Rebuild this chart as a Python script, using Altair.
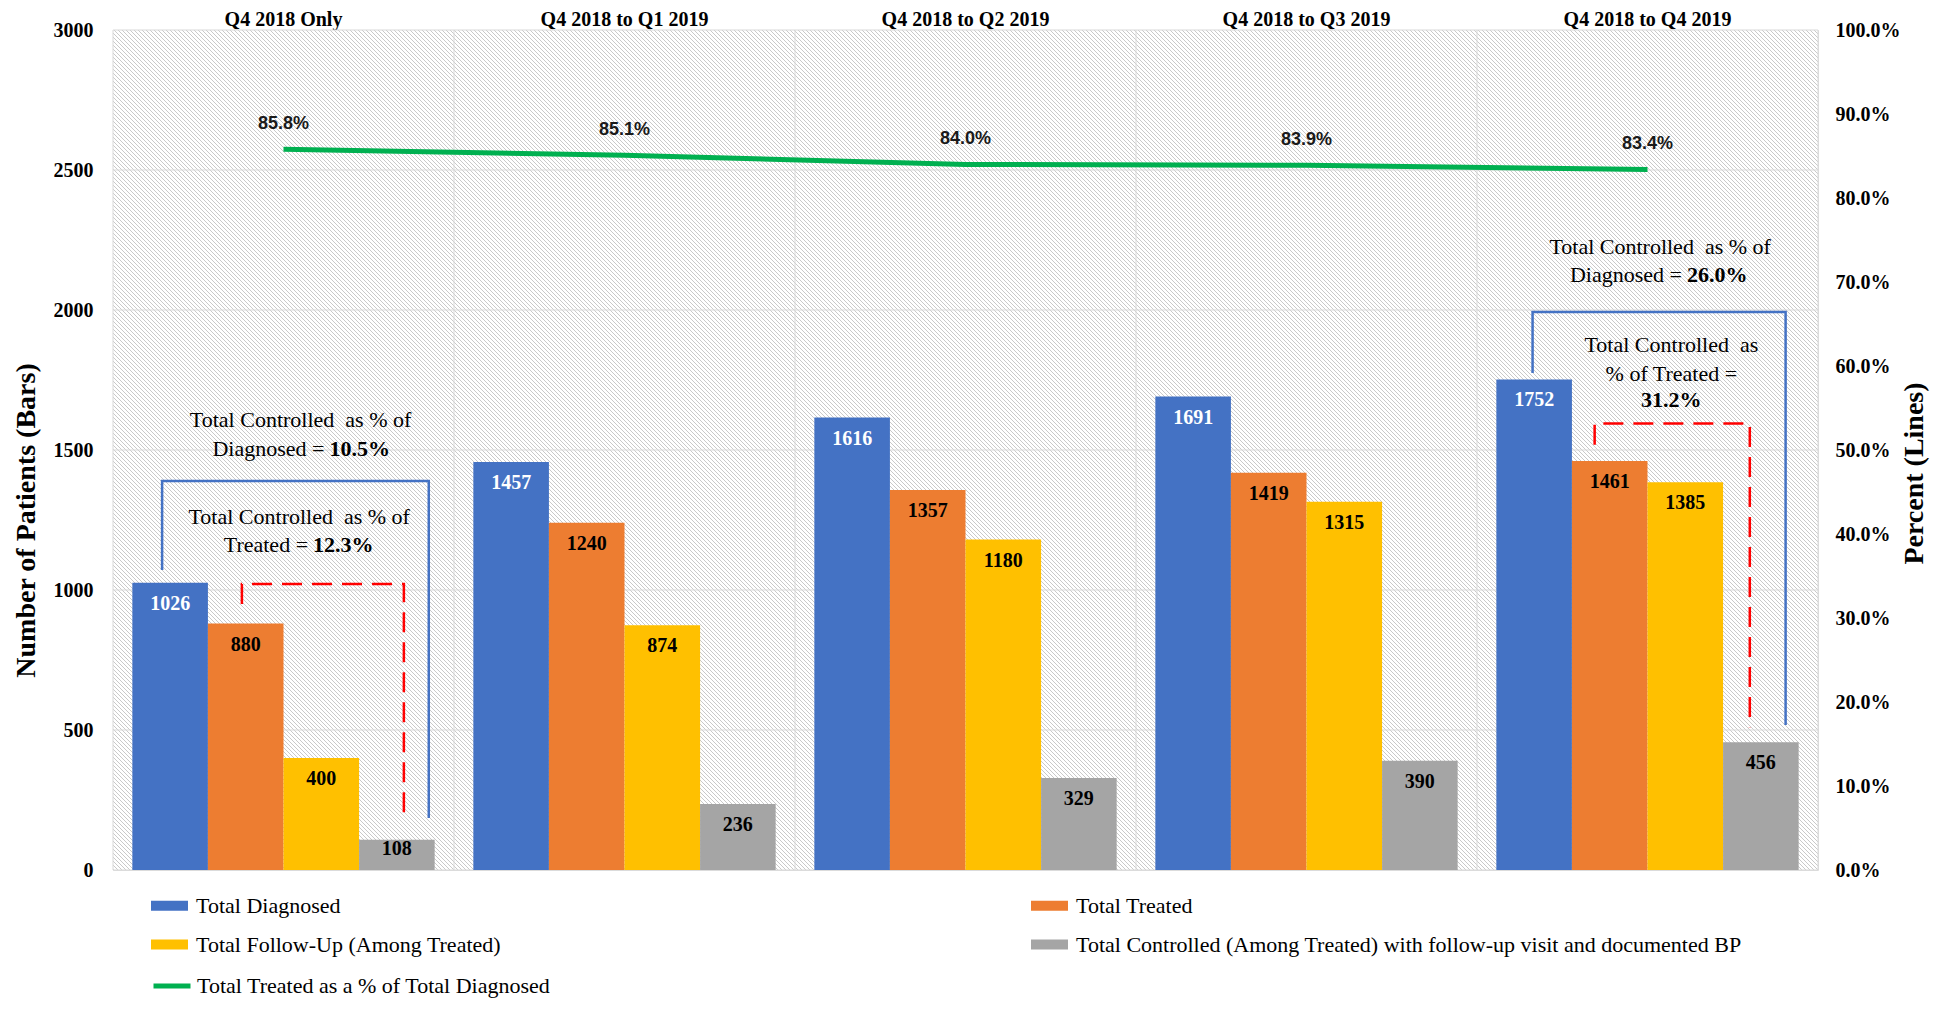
import altair as alt
import pandas as pd

# ---------------- data ----------------
periods = ["Q4 2018 Only", "Q4 2018 to Q1 2019", "Q4 2018 to Q2 2019",
           "Q4 2018 to Q3 2019", "Q4 2018 to Q4 2019"]
series_names = ["Total Diagnosed", "Total Treated", "Total Follow-Up (Among Treated)",
                "Total Controlled (Among Treated) with follow-up visit and documented BP"]
diagnosed = [1026, 1457, 1616, 1691, 1752]
treated = [880, 1240, 1357, 1419, 1461]
followup = [400, 874, 1180, 1315, 1385]
controlled = [108, 236, 329, 390, 456]
pct_treated = [85.8, 85.1, 84.0, 83.9, 83.4]
line_name = "Total Treated as a % of Total Diagnosed"
bar_colors = ["#4472C4", "#ED7D31", "#FFC000", "#A5A5A5"]
line_color = "#00B050"
left_ticks = [0, 500, 1000, 1500, 2000, 2500, 3000]
right_ticks = [0.0, 0.1, 0.2, 0.3, 0.4, 0.5, 0.6, 0.7, 0.8, 0.9, 1.0]
boundaries = [0, 1, 2, 3, 4, 5]  # period boundaries, in period units

# brackets (x in period units, y in patients)
bracket_id = ["b1", "r1", "b5", "r5"]
bracket_style = ["solid", "dashed", "solid", "dashed"]
bracket_left_x = [0.144, 0.378, 4.163, 4.345]
bracket_right_x = [0.926, 0.853, 4.905, 4.800]
bracket_top = [1389, 1021, 1993, 1595]
bracket_left_end = [1071, 950, 1775, 1519]
bracket_right_end = [186, 189, 518, 510]

# annotation texts (x in period units, y in patients)
ann_text = ["Total Controlled\u00a0 as % of", "Diagnosed =", "10.5%",
            "Total Controlled\u00a0 as % of", "Treated =", "12.3%",
            "Total Controlled\u00a0 as % of", "Diagnosed =", "26.0%",
            "Total Controlled\u00a0 as", "% of Treated =", "31.2%"]
ann_x = [0.55, 0.62, 0.62, 0.546, 0.572, 0.572, 4.537, 4.601, 4.601, 4.57, 4.57, 4.57]
ann_y = [1607, 1504, 1504, 1261, 1161, 1161, 2225, 2125, 2125, 1875, 1771, 1679]
ann_kind = ["center", "right", "boldleft", "center", "right", "boldleft",
            "center", "right", "boldleft", "center", "center", "boldcenter"]

# legend reading order (Vega fills legend columns top-to-bottom)
legend_order = [series_names[0], series_names[2], series_names[1], series_names[3]]
legend_colors = [bar_colors[0], bar_colors[2], bar_colors[1], bar_colors[3]]

# ---------------- tables ----------------
rows = []
for i, p in enumerate(periods):
    for s, vals in zip(series_names, [diagnosed, treated, followup, controlled]):
        rows.append({"period": p, "series": s, "value": vals[i]})
bars_df = pd.DataFrame(rows)
line_df = pd.DataFrame({"period": periods, "pct": [v / 100 for v in pct_treated], "name": line_name})

br_rows = []
for k in range(len(bracket_id)):
    pts = [(bracket_left_x[k], bracket_left_end[k]), (bracket_left_x[k], bracket_top[k]),
           (bracket_right_x[k], bracket_top[k]), (bracket_right_x[k], bracket_right_end[k])]
    for j, (bx, by) in enumerate(pts):
        br_rows.append({"bracket": bracket_id[k], "style": bracket_style[k], "step": j, "bx": bx, "by": by})
br_df = pd.DataFrame(br_rows)
bd_df = pd.DataFrame({"vx": boundaries, "y0": min(left_ticks), "y1": max(left_ticks)})
hg_df = pd.DataFrame({"hy": left_ticks, "x0": 0, "x1": len(periods)})
bg_df = pd.DataFrame({"x0": [0], "x1": [len(periods)], "y0": [min(left_ticks)], "y1": [max(left_ticks)]})
ann_df = pd.DataFrame({"t": ann_text, "ax": ann_x, "ay": ann_y, "kind": ann_kind})

SERIF = "Liberation Serif"
W, H = 1705, 840

# diagonal hatch texture (period 4 px horizontally, 45 degrees)
span = W + H
n_per = span // 4 + 1
stops = []
for k in range(n_per):
    a = (4 * k + 0.5) / span
    b = (4 * k + 1.5) / span
    if a > 1:
        break
    stops += [alt.GradientStop(offset=round(min(a, 1), 6), color="#ffffff"),
              alt.GradientStop(offset=round(min(a, 1), 6), color="#c9c9c9"),
              alt.GradientStop(offset=round(min(b, 1), 6), color="#c9c9c9"),
              alt.GradientStop(offset=round(min(b, 1), 6), color="#ffffff")]
r = H / W
s = (1 + r) / (1 + r * r)
hatch = alt.LinearGradient(gradient="linear", stops=stops, x1=0, y1=1,
                           x2=round(s, 6), y2=round(1 - s * r, 6))

xq = alt.Scale(domain=[0, len(periods)], nice=False, zero=False)
yq = alt.Scale(domain=[min(left_ticks), max(left_ticks)], nice=False)

# ---------------- annotation layer (period-unit x scale) ----------------
bg = alt.Chart(bg_df).mark_rect(fill=hatch).encode(
    x=alt.X("x0:Q", scale=xq, axis=None), x2="x1:Q",
    y=alt.Y("y0:Q", scale=yq, axis=None), y2="y1:Q")
hgrid = alt.Chart(hg_df).mark_rule(color="#d9d9d9", strokeWidth=1).encode(
    x=alt.X("x0:Q", scale=xq, axis=None), x2="x1:Q",
    y=alt.Y("hy:Q", scale=yq, axis=None))
vrules = alt.Chart(bd_df).mark_rule(color="#d9d9d9", strokeWidth=1).encode(
    x=alt.X("vx:Q", scale=xq, axis=None),
    y=alt.Y("y0:Q", scale=yq, axis=None),
    y2="y1:Q",
)
blue_br = alt.Chart(br_df).transform_filter(alt.datum.style == "solid").mark_line(
    color="#4472C4", strokeWidth=2.5).encode(
    x=alt.X("bx:Q", scale=xq, axis=None),
    y=alt.Y("by:Q", scale=yq, axis=None),
    detail="bracket:N", order="step:Q")
red_br = alt.Chart(br_df).transform_filter(alt.datum.style == "dashed").mark_line(
    color="#FF0000", strokeWidth=2.5, strokeDash=[20, 10]).encode(
    x=alt.X("bx:Q", scale=xq, axis=None),
    y=alt.Y("by:Q", scale=yq, axis=None),
    detail="bracket:N", order="step:Q")


def ann_layer(kind, align, weight, dx=0):
    return alt.Chart(ann_df).transform_filter(alt.datum.kind == kind).mark_text(
        font=SERIF, fontSize=22, fontWeight=weight, align=align, baseline="middle",
        color="black", dx=dx).encode(
        x=alt.X("ax:Q", scale=xq, axis=None),
        y=alt.Y("ay:Q", scale=yq, axis=None),
        text="t:N")


annot = alt.layer(
    bg, hgrid, vrules, blue_br, red_br,
    ann_layer("center", "center", "normal"),
    ann_layer("right", "right", "normal"),
    ann_layer("boldleft", "left", "bold", dx=5),
    ann_layer("boldcenter", "center", "bold"),
)

# ---------------- bars ----------------
x_band = alt.X("period:N", sort=periods, title=None,
               scale=alt.Scale(paddingInner=0, paddingOuter=0),
               axis=alt.Axis(orient="top", labelAngle=0, ticks=False, tickSize=0, domain=False,
                             grid=False, labelFont=SERIF, labelFontSize=20, labelFontWeight="bold",
                             labelColor="black", labelPadding=11, labelBaseline="middle"))
x_off = alt.XOffset("series:N", sort=series_names,
                    scale=alt.Scale(paddingInner=0, paddingOuter=0.256))
left_axis = alt.Axis(values=left_ticks, format="d", labelFont=SERIF, labelFontSize=20,
                     labelFontWeight="bold", labelColor="black", labelPadding=20,
                     ticks=False, domain=False, grid=False,
                     title="Number of Patients (Bars)", titleFont=SERIF, titleFontSize=28,
                     titleFontWeight="bold", titleColor="black", titleX=-87, titleY=490,
                     titleAngle=270, titleAlign="center", titleBaseline="middle")
y_left_scale = alt.Scale(domain=[min(left_ticks), max(left_ticks)], nice=False)

bars = alt.Chart(bars_df).mark_bar().encode(
    x=x_band, xOffset=x_off,
    y=alt.Y("value:Q", scale=y_left_scale, axis=left_axis),
    color=alt.Color("series:N",
                    scale=alt.Scale(domain=legend_order, range=legend_colors),
                    legend=alt.Legend(title=None, orient="none", legendX=38, legendY=857,
                                      columns=2, symbolType="M-1,-0.27H1V0.27H-1Z",
                                      symbolSize=1369, symbolStrokeWidth=0,
                                      labelFont=SERIF, labelFontSize=22, labelColor="black",
                                      labelOffset=8, labelLimit=1000, rowPadding=9,
                                      columnPadding=529, padding=0)),
)
bar_labels = alt.Chart(bars_df).transform_calculate(
    ly="max(datum.value - 75, 75)").mark_text(
    font=SERIF, fontSize=20, fontWeight="bold", baseline="middle", align="center").encode(
    x=x_band, xOffset=x_off,
    y=alt.Y("ly:Q", scale=y_left_scale, axis=left_axis),
    text=alt.Text("value:Q", format="d"),
    color=alt.condition(alt.datum.series == series_names[0], alt.value("white"), alt.value("black")),
)
left_group = alt.layer(bars, bar_labels)

# ---------------- line ----------------
right_axis = alt.Axis(values=right_ticks, format=".1%", orient="right", labelFont=SERIF,
                      labelFontSize=20, labelFontWeight="bold", labelColor="black",
                      labelPadding=17, ticks=False, domain=False, grid=False,
                      title="Percent (Lines)", titleFont=SERIF, titleFontSize=28,
                      titleFontWeight="bold", titleColor="black", titleX=96, titleY=443,
                      titleAngle=270, titleAlign="center", titleBaseline="middle")
y_right_scale = alt.Scale(domain=[0, 1], nice=False)
line = alt.Chart(line_df).mark_line(strokeWidth=5).encode(
    x=x_band,
    y=alt.Y("pct:Q", scale=y_right_scale, axis=right_axis),
    stroke=alt.Stroke("name:N", scale=alt.Scale(domain=[line_name], range=[line_color]),
                      legend=alt.Legend(title=None, orient="none", legendX=38, legendY=935,
                                        symbolType="stroke", symbolSize=1369,
                                        symbolStrokeWidth=5, labelFont=SERIF,
                                        labelFontSize=22, labelColor="black", labelOffset=4,
                                        labelLimit=1000, padding=0)),
)
line_labels = alt.Chart(line_df).mark_text(
    font="Liberation Sans", fontSize=18, fontWeight="bold", color="#1a1a1a", dy=-25,
    baseline="middle").encode(
    x=x_band,
    y=alt.Y("pct:Q", scale=y_right_scale, axis=right_axis),
    text=alt.Text("pct:Q", format=".1%"),
)
right_group = alt.layer(line, line_labels)

main = alt.layer(left_group, right_group).resolve_scale(y="independent")

chart = alt.layer(annot, main).resolve_scale(x="independent", y="independent").properties(
    width=W, height=H,
    autosize=alt.AutoSizeParams(type="none"),
    padding={"left": 105, "top": 22, "right": 112, "bottom": 128},
).configure_view(stroke="#d9d9d9", fill="#ffffff").configure(font=SERIF)

chart.save("out.html", embed_options={"renderer": "svg", "actions": False})
